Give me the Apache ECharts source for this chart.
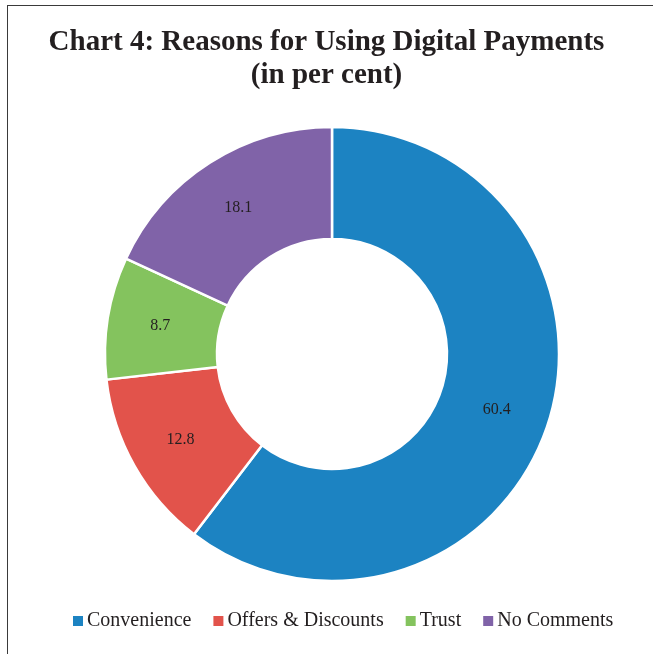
<!DOCTYPE html>
<html>
<head>
<meta charset="utf-8">
<script src="https://cdn.jsdelivr.net/npm/echarts@6/dist/echarts.min.js"></script>
<style>
  html, body { margin: 0; padding: 0; background: #fff; }
  #chart { width: 653px; height: 654px; position: relative; }
  #frame { position: absolute; left: 7px; top: 5px; width: 700px; height: 700px;
           border-left: 1.5px solid #3a3a3a; border-top: 1.5px solid #3a3a3a; pointer-events: none; }
</style>
</head>
<body>
<div id="chart"></div>
<div id="frame"></div>
<script>
// Shares of respondents by main reason for paying digitally
const categories = ['Convenience', 'Offers & Discounts', 'Trust', 'No Comments'];
const shares = [60.4, 12.8, 8.7, 18.1];
const colors = ['#1c83c2', '#e2534b', '#84c35e', '#8063a8'];

const chart = echarts.init(document.getElementById('chart'), null, { renderer: 'canvas' });
const serif = '"Liberation Serif", "DejaVu Serif", serif';

chart.setOption({
  animation: false,
  title: {
    text: 'Chart 4: Reasons for Using Digital Payments\n(in per cent)',
    left: 'center',
    top: 21,
    textStyle: {
      fontFamily: serif,
      fontWeight: 'bold',
      fontSize: 29,
      lineHeight: 33,
      color: '#231f20'
    }
  },
  legend: {
    data: categories,
    bottom: 18,
    left: 66,
    icon: 'rect',
    itemWidth: 12,
    itemHeight: 12,
    itemGap: 20,
    textStyle: { fontFamily: serif, fontSize: 20, color: '#231f20', padding: [0, 0, 0, -2] }
  },
  series: [{
    type: 'pie',
    center: [332, 354],
    radius: [115, 227],
    startAngle: 90,
    clockwise: true,
    data: categories.map((name, i) => ({ name, value: shares[i], itemStyle: { color: colors[i] } })),
    itemStyle: { borderColor: '#fff', borderWidth: 2.5 },
    label: {
      show: true,
      position: 'inside',
      formatter: p => p.value.toFixed(1),
      fontFamily: serif,
      fontSize: 16,
      color: '#231f20'
    },
    labelLine: { show: false },
    emphasis: { disabled: true }
  }]
});
</script>
</body>
</html>
